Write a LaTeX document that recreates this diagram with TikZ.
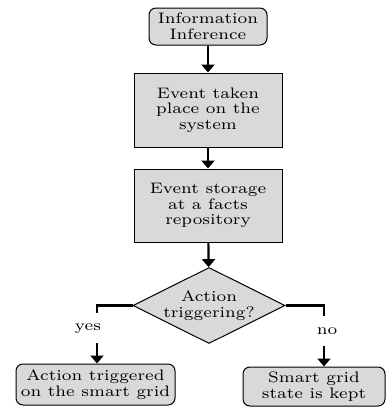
\documentclass[tikz,border=0pt]{standalone}
\usepackage{fontspec}
\setmainfont{lmroman7-regular.otf}[FakeStretch=1.12]
\usetikzlibrary{shapes.geometric,arrows.meta}
\definecolor{boxgray}{HTML}{D9D9D9}
\begin{document}
\begin{tikzpicture}[x=1pt,y=1pt,
  font=\fontsize{7.6}{7.8}\selectfont,
  base/.style={draw, fill=boxgray, line width=0.5pt, align=center, inner sep=0pt},
  roundbox/.style={base, rounded corners=3.5pt},
  squarebox/.style={base},
  decision/.style={base, diamond, aspect=2, minimum width=76pt, minimum height=38pt},
  lbl/.style={inner sep=1pt},
  conn/.style={line width=1.1pt},
  flow/.style={conn, -{Triangle[width=6.5pt,length=4pt]}}]
\useasboundingbox (0,0) rectangle (195.5,-203.5);

% main column
\node[roundbox, minimum width=59pt, minimum height=18.5pt] (info) at (104,-13.25) {Information\\Inference};
\node[squarebox, minimum width=74pt, minimum height=37pt] (taken) at (104,-55) {Event taken\\place on the\\system};
\node[squarebox, minimum width=74pt, minimum height=36.5pt] (store) at (104,-102.75) {Event storage\\at a facts\\repository};
\node[decision] (act) at (104.5,-152.75) {Action\\triggering?};

% outcomes
\node[roundbox, minimum width=79.5pt, minimum height=20.5pt] (trig) at (47.75,-192.25) {Action triggered\\on the smart grid};
\node[roundbox, minimum width=71pt, minimum height=19.5pt] (kept) at (157,-193.25) {Smart grid\\state is kept};

% branch labels
\node[lbl] (yes) at (44,-164.5) {yes};
\node[lbl] (no) at (163.5,-165.5) {no};
\coordinate (yesTop) at (48.5,-156.5);
\coordinate (yesBot) at (48.5,-171.5);
\coordinate (noTop) at (162,-158);
\coordinate (noBot) at (162,-173);

% connectors
\draw[flow] (info) -- (taken);
\draw[flow] (taken) -- (store);
\draw[flow] (store) -- (act);
\draw[conn] (act.west) -| (yesTop);
\draw[flow] (yesBot) -- (yesBot |- trig.north);
\draw[conn] (act.east) -| (noTop);
\draw[flow] (noBot) -- (noBot |- kept.north);
\end{tikzpicture}
\end{document}
